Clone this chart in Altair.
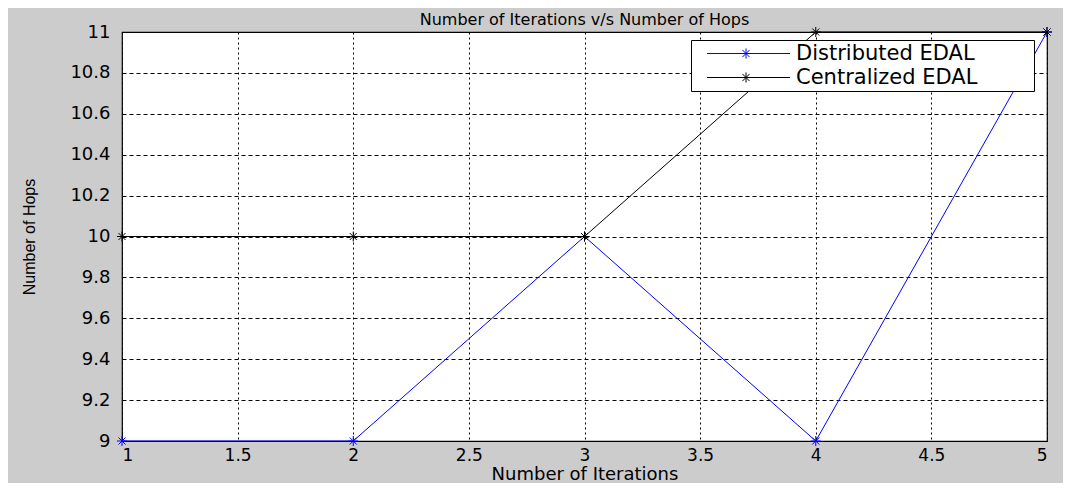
import altair as alt
import pandas as pd

iterations = [1, 2, 3, 4, 5]
distributed = [9, 9, 10, 9, 11]
centralized = [10, 10, 10, 11, 11]
series_names = ["Distributed EDAL", "Centralized EDAL"]
series_colors = ["#0000ff", "#000000"]
x_ticks = [1, 1.5, 2, 2.5, 3, 3.5, 4, 4.5, 5]
y_ticks = [9, 9.2, 9.4, 9.6, 9.8, 10, 10.2, 10.4, 10.6, 10.8, 11]

rows = []
for name, vals in zip(series_names, [distributed, centralized]):
    for i, v in zip(iterations, vals):
        rows.append({"iter": i, "hops": v, "series": name})
df = pd.DataFrame(rows)

STAR = "M-1,0H1M0,-1V1M-0.7,-0.7L0.7,0.7M-0.7,0.7L0.7,-0.7"
LEG_SYM = "M0.5,0H17.1M7.3,0H9.3M8.3,-1V1M7.6,-0.7L9,0.7M7.6,0.7L9,-0.7"
PAD = "\u00a0" * 8 + "\u200b"

legend = alt.Legend(
    title=None,
    orient="none",
    legendX=569,
    legendY=8,
    symbolType=LEG_SYM,
    symbolSize=100,
    symbolStrokeWidth=1,
    symbolFillColor="transparent",
    labelFont="DejaVu Sans",
    labelFontSize=21,
    labelColor="#000000",
    labelOffset=81,
    labelLimit=500,
    labelExpr="datum.label + '" + PAD + "'",
    padding=3,
    rowPadding=2,
    fillColor="#ffffff",
    strokeColor="#000000",
    cornerRadius=0,
)

color = alt.Color(
    "series:N",
    scale=alt.Scale(domain=series_names, range=series_colors),
    sort=series_names,
    legend=legend,
)

x = alt.X(
    "iter:Q",
    scale=alt.Scale(domain=[1, 5], nice=False, zero=False),
    axis=alt.Axis(
        title="Number of Iterations",
        values=x_ticks,
        format="~g",
        grid=True,
        gridColor="#000000",
        gridDash=[2, 3],
        gridWidth=1,
        gridOpacity=1,
        ticks=False,
        domain=False,
        labelPadding=6,
        labelFont="DejaVu Sans",
        labelFontSize=17,
        labelColor="#000000",
        titleFont="DejaVu Sans",
        titleFontSize=18,
        titleFontWeight="normal",
        titleColor="#000000",
        titlePadding=2,
    ),
)

y = alt.Y(
    "hops:Q",
    scale=alt.Scale(domain=[9, 11], nice=False, zero=False),
    axis=alt.Axis(
        title="Number of Hops",
        values=y_ticks,
        format="~g",
        grid=True,
        gridColor="#000000",
        gridDash=[4, 3],
        gridWidth=1,
        gridOpacity=1,
        ticks=False,
        domain=False,
        labelPadding=12,
        labelFont="DejaVu Sans",
        labelFontSize=18,
        labelColor="#000000",
        titleFont="Liberation Sans",
        titleFontSize=16,
        titleFontWeight="normal",
        titleColor="#000000",
        titlePadding=32,
    ),
)

base = alt.Chart(df)
lines = base.mark_line(strokeWidth=1, clip=False).encode(
    x=x, y=y, color=color, detail="series:N"
)
points = base.mark_point(shape=STAR, size=100, filled=False, strokeWidth=1, opacity=1, clip=False).encode(
    x=x, y=y, color=color
)

chart = (
    alt.layer(lines, points)
    .properties(
        width=925,
        height=409,
        title=alt.TitleParams(
            "Number of Iterations v/s Number of Hops",
            font="DejaVu Sans",
            fontSize=16,
            fontWeight="normal",
            color="#000000",
            anchor="middle",
            offset=-5,
        ),
        autosize=alt.AutoSizeParams(type="none"),
        padding={"left": 114, "top": 24, "right": 16, "bottom": 42},
    )
    .configure(background="#cccccc")
    .configure_view(fill="#ffffff", stroke="#000000", strokeWidth=1.2)
)

chart.save("out.html", embed_options={"renderer": "svg", "actions": False})
